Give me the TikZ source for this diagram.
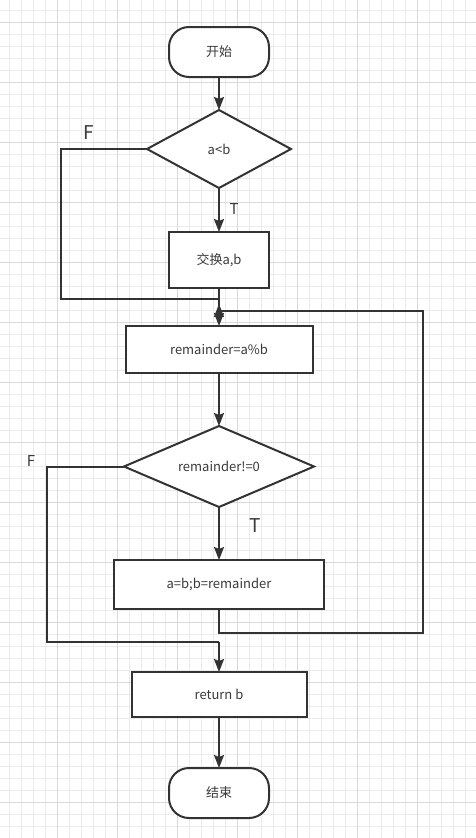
\documentclass[tikz,border=0pt]{standalone}
\usepackage{fontspec}
\setmainfont{Noto Sans CJK SC}
\usepackage{xcolor}
\usetikzlibrary{arrows.meta, positioning, shapes.geometric}

\definecolor{linegray}{HTML}{333333}
\definecolor{textgray}{HTML}{3A3A3A}
\definecolor{gridminor}{HTML}{EBEBEB}
\definecolor{gridmajor}{HTML}{D9D9D9}

\begin{document}
\begin{tikzpicture}[
        x=1pt, y=-1pt,
        font=\fontsize{13}{15}\selectfont,
        every node/.style={text=textgray, outer sep=0pt},
        term/.style={rectangle, rounded corners=20pt, draw=linegray, line width=2pt,
                     minimum width=100pt, minimum height=50pt, fill=white},
        proc/.style={rectangle, draw=linegray, line width=2pt, fill=white},
        cond/.style={diamond, aspect=2.35, draw=linegray, line width=2pt, fill=white, inner sep=0pt},
        arr/.style={-{Stealth[length=13pt, width=10pt, inset=2pt]}, draw=linegray, line width=2pt},
        link/.style={draw=linegray, line width=2pt},
        lbl/.style={font=\fontsize{15}{17}\selectfont},
        biglbl/.style={font=\fontsize{19}{21}\selectfont},
    ]
    % background grid
    \useasboundingbox (0,0) rectangle (476,838);
    \fill[white] (0,0) rectangle (476,838);
    \foreach \gx in {9,21,...,476} \draw[gridminor, line width=0.7pt] (\gx,0) -- (\gx,838);
    \foreach \gy in {10,22,...,838} \draw[gridminor, line width=0.7pt] (0,\gy) -- (476,\gy);
    \foreach \gx in {57,117,...,476} \draw[gridmajor, line width=0.9pt] (\gx,0) -- (\gx,838);
    \foreach \gy in {22,82,...,838} \draw[gridmajor, line width=0.9pt] (0,\gy) -- (476,\gy);

    % nodes
    \node[term] (start) at (219,52) {开始};
    \node[cond, minimum width=144pt, minimum height=78pt, below=33pt of start] (cmp) {a<b};
    \node[proc, minimum width=100pt, minimum height=56pt, below=44pt of cmp] (swap) {交换a,b};
    \node[proc, minimum width=187pt, minimum height=47pt, below=38pt of swap] (rem) {remainder=a\%b};
    \node[cond, minimum width=190pt, minimum height=81pt, below=53pt of rem] (test) {remainder!=0};
    \node[proc, minimum width=210pt, minimum height=49pt, below=53pt of test] (step) {a=b;b=remainder};
    \node[proc, minimum width=175pt, minimum height=45pt, below=63pt of step] (ret) {return b};
    \node[term, below=51pt of ret] (stop) {结束};

    % helper points
    \coordinate (join) at (219,299);
    \coordinate (loopin) at (219,304);
    \coordinate (exit) at (219,642);

    % labels
    \node[biglbl] (f1) at (89,133) {F};
    \node[lbl] (t1) at (234,209) {T};
    \node[lbl] (f2) at (31,461) {F};
    \node[biglbl] (t2) at (255,526) {T};

    % connectors
    \draw[arr] (start) -- (cmp);
    \draw[arr] (cmp) -- (swap);
    \draw[link] (cmp.west) -- ++(-86,0) |- (join);
    \draw[arr] (swap) -- (rem);
    \draw[arr] (rem) -- (test);
    \draw[arr] (test) -- (step);
    \draw[arr] (step.south) |- (423,633) |- (229,311) -| (loopin);
    \draw[link] (test.west) -- ++(-77,0) |- (exit);
    \draw[arr] (exit) -- (ret);
    \draw[arr] (ret) -- (stop);
\end{tikzpicture}
\end{document}
